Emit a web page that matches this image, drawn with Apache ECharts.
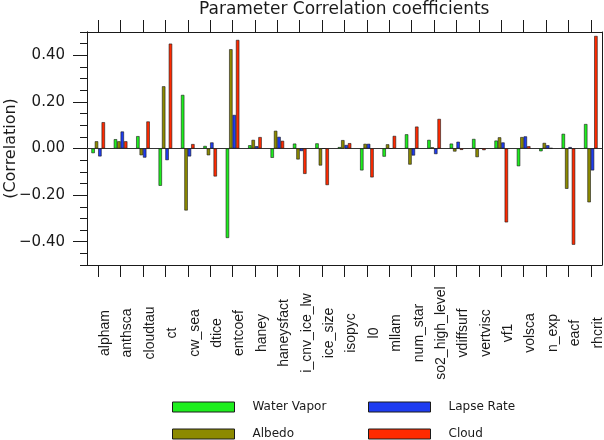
<!DOCTYPE html>
<html>
<head>
<meta charset="utf-8">
<script src="https://cdn.jsdelivr.net/npm/echarts@6/dist/echarts.min.js"></script>
<style>
html,body{margin:0;padding:0;background:#fff;}
#chart{width:604px;height:440px;}
</style>
</head>
<body>
<div id="chart"></div>
<script>
var categories = ['alpham','anthsca','cloudtau','ct','cw_sea','dtice','entcoef','haney','haneysfact','i_cnv_ice_lw','ice_size','isopyc','l0','mllam','num_star','so2_high_level','vdiffsurf','vertvisc','vf1','volsca','n_exp','eacf','rhcrit'];
var waterVapor = [-0.020, 0.040, 0.053, -0.160, 0.230, 0.011, -0.384, 0.014, -0.040, 0.021, 0.022, 0.006, -0.094, -0.035, 0.061, 0.037, 0.021, 0.041, 0.034, -0.076, -0.012, 0.063, 0.105];
var albedo = [0.031, 0.031, -0.029, 0.267, -0.266, -0.029, 0.426, 0.037, 0.076, -0.047, -0.073, 0.036, 0.020, 0.018, -0.069, 0.005, -0.013, -0.037, 0.048, 0.049, 0.024, -0.173, -0.231];
var lapseRate = [-0.034, 0.073, -0.039, -0.050, -0.034, 0.026, 0.144, 0.010, 0.050, -0.011, 0.000, 0.015, 0.020, 0.000, -0.030, -0.024, 0.029, 0.000, 0.026, 0.052, 0.014, 0.006, -0.094];
var cloud = [0.113, 0.031, 0.116, 0.450, 0.019, -0.120, 0.466, 0.049, 0.033, -0.109, -0.157, 0.023, -0.124, 0.054, 0.094, 0.127, -0.006, -0.007, -0.317, 0.010, 0.002, -0.413, 0.483];
var majorTicks = [-0.4, -0.2, 0, 0.2, 0.4];
var seriesNames = ['Water Vapor', 'Albedo', 'Lapse Rate', 'Cloud'];
var colors = ['#1eee1e', '#8c8a00', '#1e3cf0', '#ff2a00'];

var chart = echarts.init(document.getElementById('chart'), null, {renderer: 'canvas'});
var ink = '#1a1a1a';
var fontMain = 'DejaVu Sans';

function legendItem(name, left, top) {
  return {
    data: [name], left: left, top: top, padding: 0, orient: 'horizontal',
    itemWidth: 62, itemHeight: 10, icon: 'rect', selectedMode: false,
    itemStyle: {borderColor: ink, borderWidth: 1},
    textStyle: {fontFamily: fontMain, fontSize: 12, color: ink, padding: [0, 0, 0, 13]}
  };
}

var dataSets = [waterVapor, albedo, lapseRate, cloud];
var series = seriesNames.map(function (n, i) {
  return {
    name: n, type: 'bar', xAxisIndex: 0, yAxisIndex: 0,
    data: dataSets[i], barWidth: 3.4, barGap: '0%',
    itemStyle: {color: colors[i], borderColor: ink, borderWidth: 0.6},
    silent: true
  };
});

function catAxis(pos, showLabel) {
  return {gridIndex: 0, type: 'category', data: categories, position: pos, boundaryGap: true,
    axisLine: {show: true, onZero: false, lineStyle: {color: ink, width: 1}},
    axisTick: {show: true, alignWithLabel: true, length: 12, lineStyle: {color: ink, width: 1}},
    axisLabel: showLabel ? {show: true, interval: 0, rotate: 90, margin: 68, align: 'center', verticalAlign: 'top',
      fontFamily: 'Liberation Sans', fontSize: 14, color: ink, hideOverlap: false} : {show: false, interval: 0},
    splitLine: {show: false}};
}

var option = {
  animation: false,
  backgroundColor: '#fff',
  title: {
    text: 'Parameter Correlation coefficients', left: 199, top: 1, padding: 0,
    textStyle: {fontFamily: fontMain, fontSize: 17, fontWeight: 'normal', color: ink}
  },
  legend: [
    legendItem('Water Vapor', 172, 401),
    legendItem('Lapse Rate', 368, 401),
    legendItem('Albedo', 172, 428),
    legendItem('Cloud', 368, 428)
  ],
  grid: [
    {left: 87, top: 32, width: 515, height: 233, show: false, containLabel: false, outerBoundsMode: 'none'}
  ],
  xAxis: [
    catAxis('bottom', true),
    catAxis('top', false),
    {gridIndex: 0, type: 'value', min: 0, max: 1,
      axisLine: {show: true, onZero: true, lineStyle: {color: '#333', width: 1}},
      axisTick: {show: false}, axisLabel: {show: false}, splitLine: {show: false}}
  ],
  yAxis: [
    {gridIndex: 0, type: 'value', min: -0.5, max: 0.5, interval: 0.05, position: 'left',
      axisLine: {show: true, onZero: false, lineStyle: {color: ink, width: 1}},
      axisTick: {show: true, length: 7, inside: false, lineStyle: {color: ink, width: 1}},
      axisLabel: {show: false}, splitLine: {show: false}},
    {gridIndex: 0, type: 'value', min: -0.5, max: 0.5, interval: 0.1, position: 'left', offset: 0,
      name: '(Correlation)', nameLocation: 'middle', nameGap: 68, nameMoveOverlap: false,
      nameTextStyle: {fontFamily: fontMain, fontSize: 16, color: ink},
      axisLine: {show: true, onZero: false, lineStyle: {color: ink, width: 1}},
      axisTick: {show: true, length: 14, customValues: majorTicks, lineStyle: {color: ink, width: 1}},
      axisLabel: {show: true, margin: 22, fontFamily: fontMain, fontSize: 15, color: ink, customValues: majorTicks,
        formatter: function (v) { var s = Math.abs(v).toFixed(2); return (v < -1e-9 ? '\u2212' : '') + s; }},
      splitLine: {show: false}},
    {gridIndex: 0, type: 'value', min: -0.5, max: 0.5, position: 'right',
      axisLine: {show: true, onZero: false, lineStyle: {color: ink, width: 1}},
      axisTick: {show: false}, axisLabel: {show: false}, splitLine: {show: false}}
  ],
  series: series
};
chart.setOption(option);
</script>
</body>
</html>
